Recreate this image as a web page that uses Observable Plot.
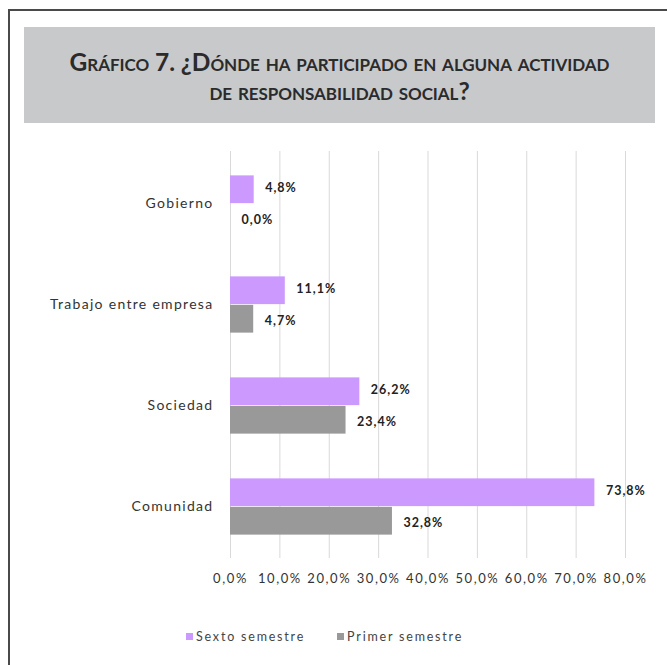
<!DOCTYPE html>
<html>
<head>
<meta charset="utf-8">
<script src="https://cdn.jsdelivr.net/npm/d3@7"></script>
<script src="https://cdn.jsdelivr.net/npm/@observablehq/plot@0.6"></script>
<style>
  html, body { margin: 0; padding: 0; background: #fff; }
  #page { position: relative; width: 667px; height: 665px; overflow: hidden; font-family: Lato, "Open Sans", sans-serif; }
  #frameTop { position: absolute; left: 8px; top: 9px; width: 659px; height: 0; border-top: 2px solid #4a4a4a; }
  #frameLeft { position: absolute; left: 8px; top: 9px; width: 0; height: 660px; border-left: 2px solid #4a4a4a; }
  #titlebox { position: absolute; left: 24px; top: 27px; width: 631px; height: 96px; background: #c8c9cb;
    display: flex; align-items: center; justify-content: center; text-align: center;
    font-family: Lato, "Open Sans", sans-serif; font-weight: 700; font-variant: small-caps; color: #2b2b2b;
    font-size: 24.5px; line-height: 29px; letter-spacing: -0.05px; }
  #titlebox > div { margin-top: 2px; }
  #chart { position: absolute; left: 0; top: 140px; }
  .chart g[aria-label="y-axis tick label"] text { letter-spacing: 1.3px; }
  .chart g[aria-label="x-axis tick label"] text { letter-spacing: 1.6px; }
  .chart g[aria-label="text"] text { letter-spacing: 1px; }
  #legend { position: absolute; top: 629px; left: 186px; font-family: Lato, sans-serif; font-size: 12.5px; color: #444; display: flex; gap: 32px; letter-spacing: 1.8px; }
  #legend span.sw { display: inline-block; width: 7px; height: 7px; margin-right: 3px; vertical-align: 1px; }
</style>
</head>
<body>
<div id="page">
  <div id="frameTop"></div>
  <div id="frameLeft"></div>
  <div id="titlebox"><div>Gráfico 7. ¿Dónde ha participado en alguna actividad<br>de responsabilidad social?</div></div>
  <div id="chart"></div>
  <div id="legend"></div>
</div>
<script>
const categories = ["Gobierno", "Trabajo entre empresa", "Sociedad", "Comunidad"];
const seriesNames = ["Sexto semestre", "Primer semestre"];
const sexto = [0.048, 0.111, 0.262, 0.738];
const primer = [0.000, 0.047, 0.234, 0.328];
const xTicks = [0, 0.1, 0.2, 0.3, 0.4, 0.5, 0.6, 0.7, 0.8];
const colors = ["#cc99ff", "#999999"];

const locale = d3.formatLocale({decimal: ",", thousands: ".", grouping: [3], currency: ["", "€"]});
const pct = locale.format(".1%");

const dataSexto = categories.map((c, i) => ({category: c, value: sexto[i]}));
const dataPrimer = categories.map((c, i) => ({category: c, value: primer[i]}));

const step = (558 - 151) / categories.length;
const barH = 28.5;
const half = step / 2;

const chart = Plot.plot({
  width: 667,
  height: 458,
  marginLeft: 230,
  marginRight: 42,
  marginTop: 11,
  marginBottom: 40,
  className: "chart",
  style: {fontFamily: "Lato, sans-serif", color: "#333", background: "transparent"},
  x: {domain: [0, 0.8]},
  y: {domain: categories, padding: 0},
  marks: [
    Plot.gridX(xTicks, {stroke: "#d9d9d9", strokeOpacity: 1, strokeWidth: 1}),
    Plot.barX(dataSexto, {x: "value", y: "category", fill: colors[0], insetTop: half - barH, insetBottom: half}),
    Plot.barX(dataPrimer, {x: "value", y: "category", fill: colors[1], insetTop: half, insetBottom: half - barH}),
    Plot.text(dataSexto, {x: "value", y: "category", text: d => pct(d.value), textAnchor: "start", dx: 11, dy: -barH / 2 - 2, fontWeight: "bold", fontSize: 12.5, fill: "#222"}),
    Plot.text(dataPrimer, {x: "value", y: "category", text: d => pct(d.value), textAnchor: "start", dx: 11, dy: barH / 2 + 2, fontWeight: "bold", fontSize: 12.5, fill: "#222"}),
    Plot.axisY({tickSize: 0, tickPadding: 17, label: null, fontSize: 14, fill: "#333"}),
    Plot.axisX({ticks: xTicks, tickFormat: pct, tickSize: 0, tickPadding: 15, label: null, fontSize: 13, fill: "#333"})
  ]
});
document.getElementById("chart").appendChild(chart);

const legend = document.getElementById("legend");
seriesNames.forEach((name, i) => {
  const item = document.createElement("div");
  item.innerHTML = `<span class="sw" style="background:${colors[i]}"></span>${name}`;
  legend.appendChild(item);
});
</script>
</body>
</html>
